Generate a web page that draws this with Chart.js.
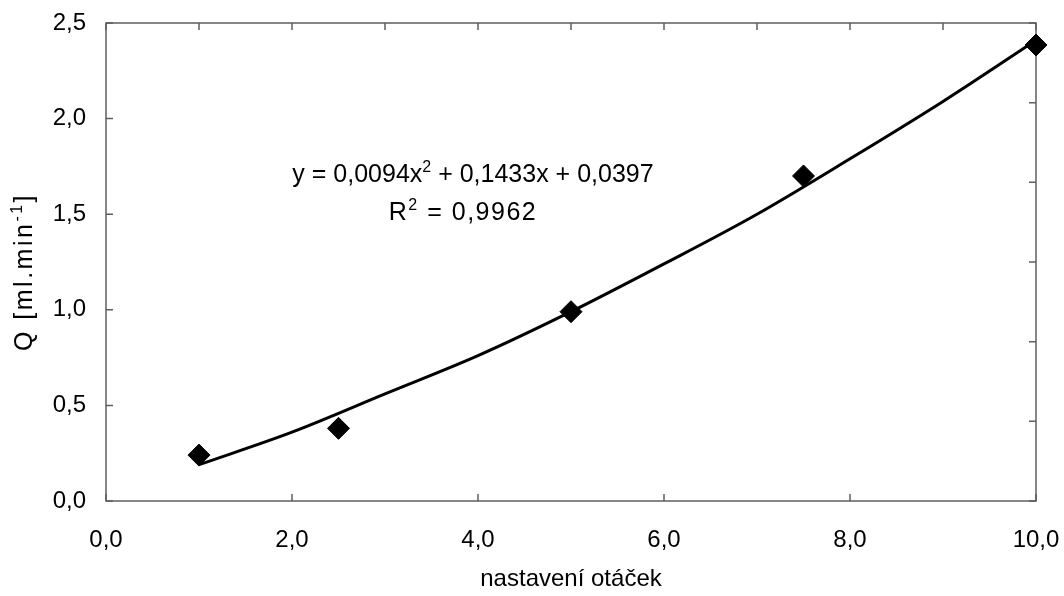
<!DOCTYPE html>
<html>
<head>
<meta charset="utf-8">
<script src="https://cdn.jsdelivr.net/npm/chart.js@4.4.1/dist/chart.umd.min.js"></script>
<style>
  html, body { margin: 0; padding: 0; background: #fff; }
  #wrap { width: 1064px; height: 596px; }
</style>
</head>
<body>
<div id="wrap"><canvas id="flowChart"></canvas></div>
<script>
// measured points
const speedSetting = [1, 2.5, 5, 7.5, 10];
const flowRate = [0.24, 0.38, 0.99, 1.70, 2.385];

// polynomial trendline
const trendX = [1, 2, 3, 4, 5, 6, 7, 8, 9, 10];
const trendY = [0.19, 0.36, 0.56, 0.76, 0.99, 1.24, 1.50, 1.79, 2.09, 2.41];

const xTickLabels = ['0,0', '2,0', '4,0', '6,0', '8,0', '10,0'];
const yTickLabels = ['0,0', '0,5', '1,0', '1,5', '2,0', '2,5'];

const FONT = "'Liberation Sans', Arial, sans-serif";

// draws text with superscript pieces, centred on cx
function drawRich(ctx, parts, cx, y, size, spacing) {
  const main = size + 'px ' + FONT;
  const sup = Math.round(size * 0.62) + 'px ' + FONT;
  ctx.letterSpacing = (spacing || 0) + 'px';
  let w = 0;
  parts.forEach(p => {
    ctx.font = p.sup ? sup : main;
    p.w = ctx.measureText(p.t).width;
    w += p.w;
  });
  let x = cx - w / 2;
  parts.forEach(p => {
    ctx.font = p.sup ? sup : main;
    ctx.fillText(p.t, x, p.sup ? y - size * 0.42 : y);
    x += p.w;
  });
  ctx.letterSpacing = '0px';
}

const framePlugin = {
  id: 'frame',
  beforeDatasetsDraw(chart) {
    const { ctx, chartArea: a, scales } = chart;
    const len = 7;
    ctx.save();
    ctx.strokeStyle = '#5f5f5f';
    ctx.lineWidth = 1.5;
    ctx.strokeRect(a.left, a.top, a.right - a.left, a.bottom - a.top);
    ctx.beginPath();
    scales.x.ticks.forEach(t => {
      const px = scales.x.getPixelForValue(t.value);
      ctx.moveTo(px, a.bottom); ctx.lineTo(px, a.bottom - len);
    });
    scales.x2.ticks.forEach(t => {
      const px = scales.x2.getPixelForValue(t.value);
      ctx.moveTo(px, a.top); ctx.lineTo(px, a.top + len);
    });
    scales.y.ticks.forEach(t => {
      const py = scales.y.getPixelForValue(t.value);
      ctx.moveTo(a.left, py); ctx.lineTo(a.left + len, py);
    });
    scales.y2.ticks.forEach(t => {
      const py = scales.y2.getPixelForValue(t.value);
      ctx.moveTo(a.right, py); ctx.lineTo(a.right - len, py);
    });
    ctx.stroke();
    ctx.restore();
  },
  afterDraw(chart) {
    const { ctx } = chart;
    ctx.save();
    ctx.fillStyle = '#000';
    ctx.textBaseline = 'alphabetic';
    // regression equation
    drawRich(ctx, [
      { t: 'y = 0,0094x' }, { t: '2', sup: true }, { t: ' + 0,1433x + 0,0397' }
    ], 473, 182, 25, 0);
    drawRich(ctx, [
      { t: 'R' }, { t: '2', sup: true }, { t: ' = 0,9962' }
    ], 463, 220, 25, 1.5);
    // x axis title
    drawRich(ctx, [{ t: 'nastavení otáček' }], 571, 586, 24, 0);
    // y axis title
    ctx.translate(32, 272);
    ctx.rotate(-Math.PI / 2);
    drawRich(ctx, [
      { t: 'Q [ml.min' }, { t: '-1', sup: true }, { t: ']' }
    ], 0, 0, 25, 2.5);
    ctx.restore();
  }
};

const ctx = document.getElementById('flowChart').getContext('2d');
new Chart(ctx, {
  type: 'scatter',
  data: {
    datasets: [
      {
        label: 'Q',
        data: speedSetting.map((x, i) => ({ x: x, y: flowRate[i] })),
        pointStyle: 'rectRot',
        pointRadius: 11,
        pointHoverRadius: 11,
        backgroundColor: '#000',
        borderColor: '#000',
        borderWidth: 1,
        clip: false,
        order: 1
      },
      {
        label: 'trend',
        data: trendX.map((x, i) => ({ x: x, y: trendY[i] })),
        showLine: true,
        borderColor: '#000',
        borderWidth: 3,
        pointRadius: 0,
        cubicInterpolationMode: 'monotone',
        order: 2
      }
    ]
  },
  options: {
    responsive: true,
    maintainAspectRatio: false,
    animation: false,
    layout: { padding: { top: 23, right: 28, left: 0, bottom: 0 } },
    plugins: {
      legend: { display: false },
      tooltip: { enabled: false }
    },
    scales: {
      x: {
        type: 'linear', position: 'bottom', min: 0, max: 10,
        grid: { display: false, drawTicks: false },
        border: { display: false },
        ticks: {
          stepSize: 2, padding: 25, color: '#000',
          font: { size: 24, family: FONT },
          callback: (v) => xTickLabels[Math.round(v / 2)]
        },
        afterFit: s => { s.height = 95; s.paddingLeft = 0; s.paddingRight = 0; }
      },
      y: {
        type: 'linear', position: 'left', min: 0, max: 2.5,
        grid: { display: false, drawTicks: false },
        border: { display: false },
        ticks: {
          stepSize: 0.5, padding: 20, color: '#000',
          font: { size: 24, family: FONT },
          callback: (v) => yTickLabels[Math.round(v * 2)]
        },
        afterFit: s => { s.width = 106; s.paddingTop = 0; s.paddingBottom = 0; }
      },
      x2: {
        type: 'linear', position: 'top', min: 0, max: 10, ticks: { stepSize: 1 }, display: false,
        afterFit: s => { s.height = 0; s.paddingLeft = 0; s.paddingRight = 0; }
      },
      y2: {
        type: 'linear', position: 'right', min: 0, max: 6, ticks: { stepSize: 1 }, display: false,
        afterFit: s => { s.width = 0; s.paddingTop = 0; s.paddingBottom = 0; }
      }
    }
  },
  plugins: [framePlugin]
});
</script>
</body>
</html>
